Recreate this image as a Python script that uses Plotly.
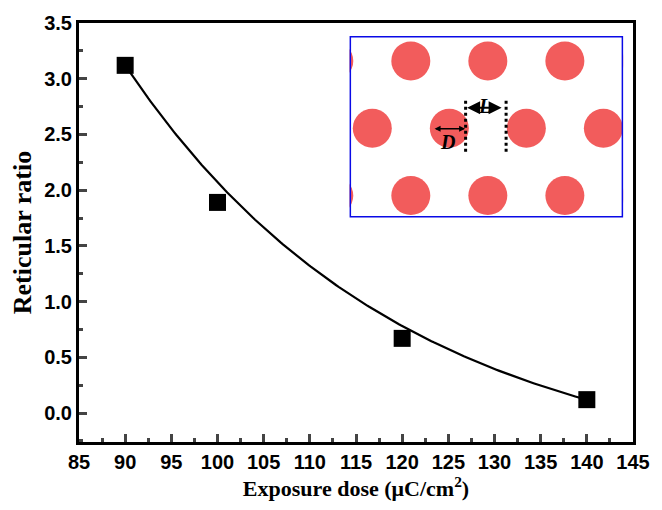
import numpy as np
import plotly.graph_objects as go

# ---- data ----
dose = [90, 100, 120, 140]
ratio = [3.12, 1.89, 0.67, 0.12]
# exponential-decay fit curve parameters
fit_A, fit_tau, fit_y0 = 3.70, 30.0, -0.58
x_ticks = list(range(85, 150, 5))
y_ticks = [0, 0.5, 1.0, 1.5, 2.0, 2.5, 3.0, 3.5]

# ---- layout in pixels ----
W, H = 662, 510
L, R, T, B = 79, 640, 22, 442

fx = np.linspace(dose[0], dose[-1], 200)
fy = fit_y0 + fit_A * np.exp(-(fx - dose[0]) / fit_tau)

fig = go.Figure()
fig.add_trace(go.Scatter(x=fx, y=fy, mode="lines",
                         line=dict(color="black", width=2.2), showlegend=False))
fig.add_trace(go.Scatter(x=dose, y=ratio, mode="markers",
                         marker=dict(symbol="square", size=17, color="black"),
                         showlegend=False))

# ---- inset (schematic of hexagonal dot lattice), pixel coordinates ----
ix0, ix1, iy0, iy1 = 353, 630, 35, 217
lat_x0, lat_pitch = 337, 78
lat_rows = [60, 127.5, 195]
dot_d = 39
cx, cy = [], []
for r, yy in enumerate(lat_rows):
    off = lat_pitch / 2 if r % 2 else 0
    for k in range(5):
        cx.append(lat_x0 + off + k * lat_pitch)
        cy.append(yy)
fig.add_trace(go.Scatter(x=cx, y=cy, mode="markers", xaxis="x2", yaxis="y2",
                         marker=dict(size=dot_d, color="#F25C5C", line=dict(width=0)),
                         cliponaxis=True, showlegend=False, hoverinfo="skip"))

tick_font = dict(family="Liberation Sans", size=20, color="black")
title_font = dict(family="Liberation Serif", color="black")
pw, ph = R - L, B - T
fig.update_layout(
    width=W, height=H,
    margin=dict(l=L, r=W - R, t=T, b=H - B),
    paper_bgcolor="white", plot_bgcolor="white",
    xaxis=dict(range=[85, 145], tickvals=x_ticks,
               ticktext=[f"<b>{v}</b>" for v in x_ticks],
               ticks="inside", ticklen=8, tickwidth=2.5,
               minor=dict(dtick=2.5, tick0=85, ticks="inside", ticklen=4, tickwidth=2.5),
               showline=True, linewidth=3, linecolor="black", mirror=True,
               showgrid=False, zeroline=False, tickfont=tick_font,
               title=dict(text="<b>Exposure dose (μC/cm<sup>2</sup>)</b>", standoff=8,
                          font=dict(size=22, **title_font))),
    yaxis=dict(range=[-0.26, 3.5], tickvals=y_ticks,
               ticktext=[f"<b>{v:.1f}</b>" for v in y_ticks],
               ticks="inside", ticklen=8, tickwidth=2.5,
               minor=dict(dtick=0.25, tick0=0, ticks="inside", ticklen=4, tickwidth=2.5),
               showline=True, linewidth=3, linecolor="black", mirror=True,
               showgrid=False, zeroline=False, tickfont=tick_font,
               title=dict(text="<b>Reticular ratio</b>", standoff=6,
                          font=dict(size=26, **title_font))),
    xaxis2=dict(domain=[(ix0 - L) / pw, (ix1 - L) / pw], range=[ix0, ix1], anchor="y2",
                visible=False, fixedrange=True),
    yaxis2=dict(domain=[(B - iy1) / ph, (B - iy0) / ph], range=[iy1, iy0], anchor="x2",
                visible=False, fixedrange=True),
)

# inset frame
fig.add_shape(type="rect", xref="x2", yref="y2", x0=ix0, x1=ix1, y0=iy0, y1=iy1,
              line=dict(color="#0A0AE6", width=3))
# dotted guide lines
for xv in (470.5, 511.5):
    fig.add_shape(type="line", xref="x2", yref="y2", x0=xv, x1=xv, y0=100, y1=152,
                  line=dict(color="black", width=3, dash="dot"))
# D arrow
fig.add_annotation(x=470, y=128, ax=436, ay=128, xref="x2", yref="y2", axref="x2", ayref="y2",
                   text=" ", showarrow=True, arrowhead=2, arrowside="end+start",
                   arrowsize=0.8, arrowwidth=1.5, arrowcolor="black")
fig.add_annotation(x=452, y=141, xref="x2", yref="y2", text="<b><i>D</i></b>", showarrow=False,
                   font=dict(family="Liberation Serif", size=20, color="black"))
# L arrow
fig.add_annotation(x=472, y=107, ax=510, ay=107, xref="x2", yref="y2", axref="x2", ayref="y2",
                   text=" ", showarrow=True, arrowhead=2, arrowside="end+start",
                   arrowsize=1.3, arrowwidth=2, arrowcolor="black")
fig.add_annotation(x=490, y=105, xref="x2", yref="y2", text="<b><i>L</i></b>", showarrow=False,
                   font=dict(family="Liberation Serif", size=20, color="black"))

fig.write_html("out.html")
